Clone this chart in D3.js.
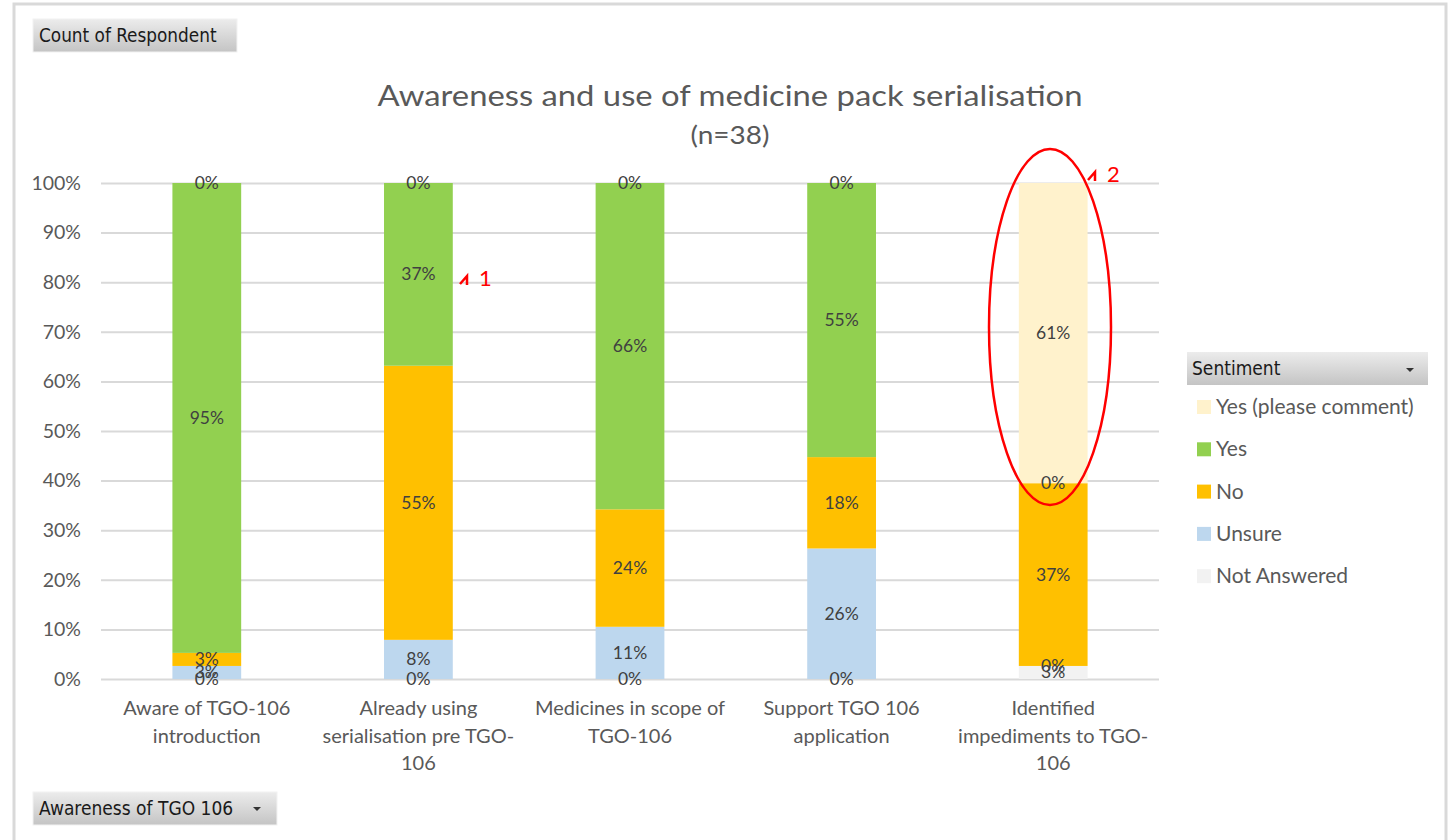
<!DOCTYPE html>
<html>
<head>
<meta charset="utf-8">
<script src="https://cdn.jsdelivr.net/npm/d3@7"></script>
<style>
  body { margin: 0; background: #fff; }
  svg { font-family: Lato, "Open Sans", sans-serif; }
</style>
</head>
<body>
<svg id="chart" width="1453" height="840"></svg>
<script>
const width = 1453, height = 840;
const svg = d3.select("#chart");

// counts of respondents (n=38)
const total = 38;
const categories = [
    ["Aware of TGO-106", "introduction"],
    ["Already using", "serialisation pre TGO-", "106"],
    ["Medicines in scope of", "TGO-106"],
    ["Support TGO 106", "application"],
    ["Identified", "impediments to TGO-", "106"]
];
const seriesNames = ["Not Answered", "Unsure", "No", "Yes", "Yes (please comment)"];
const notAnswered = [0, 0, 0, 0, 1];
const unsure      = [1, 3, 4, 10, 0];
const no          = [1, 21, 9, 7, 14];
const yes         = [36, 14, 25, 21, 0];
const yesComment  = [0, 0, 0, 0, 23];
const yTicks = [0, 0.1, 0.2, 0.3, 0.4, 0.5, 0.6, 0.7, 0.8, 0.9, 1];

const colors = {
    "Not Answered": "#F2F2F2",
    "Unsure": "#BDD7EE",
    "No": "#FFC000",
    "Yes": "#92D050",
    "Yes (please comment)": "#FFF2CC"
};

const rows = categories.map((c, i) => ({
    key: i,
    "Not Answered": notAnswered[i] / total,
    "Unsure": unsure[i] / total,
    "No": no[i] / total,
    "Yes": yes[i] / total,
    "Yes (please comment)": yesComment[i] / total
}));
const stacked = d3.stack().keys(seriesNames)(rows);

const x = d3.scaleBand().domain(d3.range(categories.length)).range([101, 1159]).paddingInner(0.675).paddingOuter(0.3375);
const y = d3.scaleLinear().domain([0, 1]).range([679, 183]);

// outer frame
svg.append("rect").attr("x", 14).attr("y", 4).attr("width", 1432).attr("height", 850)
    .attr("fill", "#fff").attr("stroke", "#d9d9d9").attr("stroke-width", 3);

const defs = svg.append("defs");
const grad = defs.append("linearGradient").attr("id", "btn").attr("x1", 0).attr("y1", 0).attr("x2", 0).attr("y2", 1);
grad.append("stop").attr("offset", "0%").attr("stop-color", "#ececec");
grad.append("stop").attr("offset", "100%").attr("stop-color", "#c4c4c4");

const btnFont = "'DejaVu Sans Condensed', 'Liberation Sans Narrow', sans-serif";
function button(x0, y0, w, label, arrow, size) {
    svg.append("rect").attr("x", x0).attr("y", y0).attr("width", w).attr("height", 33)
        .attr("fill", "url(#btn)").attr("stroke", "#f2f2f2");
    svg.append("text").attr("x", x0 + 6).attr("y", y0 + 23)
        .attr("font-family", btnFont)
        .attr("font-size", size).attr("fill", "#1a1a1a").text(label);
    if (arrow) {
        svg.append("path").attr("d", `M${x0 + w - 24},${y0 + 15}l8,0l-4,4z`).attr("fill", "#333");
    }
}
button(33, 19, 204, "Count of Respondent", false, 18.8);
button(33, 792, 244, "Awareness of TGO 106", true, 19);

// title
svg.append("text").attr("x", 730).attr("y", 106).attr("text-anchor", "middle")
    .attr("font-size", 29).attr("fill", "#595959")
    .attr("textLength", 705).attr("lengthAdjust", "spacingAndGlyphs")
    .text("Awareness and use of medicine pack serialisation");
svg.append("text").attr("x", 730).attr("y", 144).attr("text-anchor", "middle")
    .attr("font-size", 25).attr("fill", "#595959")
    .attr("textLength", 79).attr("lengthAdjust", "spacingAndGlyphs")
    .text("(n=38)");

// gridlines + y axis
const yAxis = svg.append("g").attr("transform", "translate(101,0)")
    .call(d3.axisLeft(y).tickValues(yTicks).tickFormat(d3.format(".0%")).tickSize(-1058).tickPadding(20));
yAxis.select(".domain").remove();
yAxis.selectAll(".tick line").attr("stroke", "#d9d9d9").attr("stroke-width", 2);
yAxis.selectAll(".tick text").attr("fill", "#595959").attr("font-size", 19.5)
    .attr("font-family", "Lato, sans-serif");

// bars
const layer = svg.append("g");
stacked.forEach(s => {
    layer.selectAll(null).data(s).enter().append("rect")
        .attr("x", (d, i) => x(i))
        .attr("y", d => y(d[1]))
        .attr("width", x.bandwidth())
        .attr("height", d => y(d[0]) - y(d[1]))
        .attr("fill", colors[s.key]);
});

// data labels
stacked.forEach(s => {
    layer.selectAll(null).data(s).enter().append("text")
        .attr("x", (d, i) => x(i) + x.bandwidth() / 2)
        .attr("y", d => y((d[0] + d[1]) / 2) + 6)
        .attr("text-anchor", "middle")
        .attr("font-size", 17.5).attr("fill", "#404040")
        .text(d => d3.format(".0%")(d[1] - d[0]));
});

// x labels
const xl = svg.append("g");
categories.forEach((lines, i) => {
    const t = xl.append("text").attr("text-anchor", "middle")
        .attr("font-size", 20).attr("fill", "#595959");
    lines.forEach((ln, j) => {
        t.append("tspan").attr("x", x(i) + x.bandwidth() / 2).attr("y", 715 + j * 27.5).text(ln);
    });
});

// legend
svg.append("rect").attr("x", 1187).attr("y", 352).attr("width", 241).attr("height", 33)
    .attr("fill", "url(#btn)");
svg.append("text").attr("x", 1192).attr("y", 375)
    .attr("font-family", btnFont).attr("font-size", 19).attr("fill", "#1a1a1a")
    .text("Sentiment");
svg.append("path").attr("d", "M1406,368l8,0l-4,4z").attr("fill", "#333");
const legendOrder = seriesNames.slice().reverse();
const lg = svg.append("g").selectAll("g").data(legendOrder).enter().append("g")
    .attr("transform", (d, i) => `translate(1197,${400 + i * 42.3})`);
lg.append("rect").attr("width", 14).attr("height", 14).attr("fill", d => colors[d]);
lg.append("text").attr("x", 19).attr("y", 14).attr("font-size", 21).attr("fill", "#595959")
    .text(d => d);

// annotations
svg.append("ellipse").attr("cx", 1050).attr("cy", 327).attr("rx", 61).attr("ry", 178)
    .attr("fill", "none").attr("stroke", "#ff0000").attr("stroke-width", 2.5);
function marker(x0, y0, label) {
    svg.append("path").attr("d", `M${x0},${y0}l7,-8l0,9`).attr("fill", "none")
        .attr("stroke", "#ff0000").attr("stroke-width", 2.5);
    svg.append("text").attr("x", x0 + 19).attr("y", y0 + 2).attr("font-size", 22).attr("fill", "#ff0000")
        .text(label);
}
marker(460, 284, "1");
marker(1088, 180, "2");
</script>
</body>
</html>
